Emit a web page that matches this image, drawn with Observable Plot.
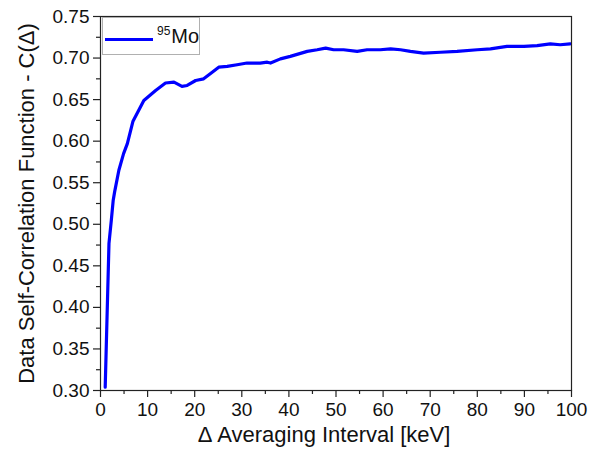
<!DOCTYPE html>
<html>
<head>
<meta charset="utf-8">
<script src="https://cdn.jsdelivr.net/npm/d3@7"></script>
<script src="https://cdn.jsdelivr.net/npm/@observablehq/plot@0.6"></script>
<style>
  html, body { margin: 0; padding: 0; background: #fff; }
  #wrap { position: relative; width: 604px; height: 455px; font-family: "Liberation Sans", Arial, sans-serif; }
  #legend { position: absolute; left: 102px; top: 17px; width: 98px; height: 38px; border: 1px solid #b0b0b0; background: #fff; box-sizing: border-box; }
  #legend .sw { position: absolute; left: 2px; top: 20px; width: 48px; height: 3px; background: #0000ff; }
  #legend .lab { position: absolute; left: 54px; top: 8px; font-size: 20px; color: #111; white-space: nowrap; line-height: 1; }
  #legend sup { font-size: 12px; vertical-align: 0; position: relative; top: -8px; margin-right: 1px; }
</style>
</head>
<body>
<div id="wrap"></div>
<script>
const delta = [1, 1.8, 2.3, 2.7, 3, 3.9, 4.9, 5.7, 6.9, 9.2, 11.7, 13.8, 15.6, 17.3, 18.4, 20.2, 21.9, 23.3, 25.1, 26.9, 29, 31.1, 33.9, 35.4, 36.1, 38.2, 40.3, 43.9, 46, 47.8, 49.5, 51.6, 54.5, 56.6, 59.4, 61.6, 63.7, 65.8, 68.6, 72.2, 75.7, 80, 82.8, 86.3, 89.9, 92.7, 95.5, 97.6, 99.7];
const corr = [0.304, 0.477, 0.505, 0.529, 0.539, 0.565, 0.585, 0.597, 0.624, 0.649, 0.661, 0.670, 0.671, 0.666, 0.667, 0.673, 0.675, 0.681, 0.689, 0.690, 0.692, 0.694, 0.694, 0.695, 0.694, 0.699, 0.702, 0.708, 0.710, 0.712, 0.710, 0.710, 0.708, 0.710, 0.710, 0.711, 0.710, 0.708, 0.706, 0.707, 0.708, 0.710, 0.711, 0.714, 0.714, 0.715, 0.717, 0.716, 0.717];
const xMajor = [0, 10, 20, 30, 40, 50, 60, 70, 80, 90, 100];
const xMinor = [5, 15, 25, 35, 45, 55, 65, 75, 85, 95];
const yMajor = [0.30, 0.35, 0.40, 0.45, 0.50, 0.55, 0.60, 0.65, 0.70, 0.75];
const yMinor = [0.325, 0.375, 0.425, 0.475, 0.525, 0.575, 0.625, 0.675, 0.725];
const xLabel = "Δ Averaging Interval [keV]";
const yLabel = "Data Self-Correlation Function - C(Δ)";
const seriesName = "Mo";
const seriesSup = "95";

const data = delta.map((d, i) => ({delta: d, corr: corr[i]}));

const chart = Plot.plot({
  width: 604,
  height: 455,
  marginLeft: 100,
  marginRight: 33,
  marginTop: 16,
  marginBottom: 65,
  style: {fontFamily: "'Liberation Sans', Arial, sans-serif", fontSize: "19px", color: "#111", background: "#fff"},
  x: {domain: [0, 100]},
  y: {domain: [0.30, 0.75]},
  marks: [
    Plot.line(data, {x: "delta", y: "corr", stroke: "#0000ff", strokeWidth: 3.2}),
    Plot.frame({stroke: "#222", strokeWidth: 1.2}),
    Plot.axisX({ticks: xMajor, tickSize: 7, tickPadding: 5, fontSize: 19, label: null, stroke: "#222", strokeWidth: 1.2, tickFormat: d3.format("d")}),
    Plot.axisX({ticks: xMinor, tickSize: 4, fill: "none", label: null, stroke: "#222", strokeWidth: 1.2}),
    Plot.axisY({ticks: yMajor, tickSize: 7, tickPadding: 4, fontSize: 19, label: null, stroke: "#222", strokeWidth: 1.2, tickFormat: d3.format(".2f")}),
    Plot.axisY({ticks: yMinor, tickSize: 4, fill: "none", label: null, stroke: "#222", strokeWidth: 1.2}),
    Plot.text([xLabel], {frameAnchor: "bottom", dx: -12, dy: 51, text: d => d, fontSize: 22, fill: "#111"}),
    Plot.text([yLabel], {frameAnchor: "left", textAnchor: "middle", dx: -74, rotate: -90, text: d => d, fontSize: 22, fill: "#111"})
  ]
});

const wrap = document.getElementById("wrap");
wrap.appendChild(chart);
const leg = document.createElement("div");
leg.id = "legend";
leg.innerHTML = `<div class="sw"></div><div class="lab"><sup>${seriesSup}</sup>${seriesName}</div>`;
wrap.appendChild(leg);
</script>
</body>
</html>
